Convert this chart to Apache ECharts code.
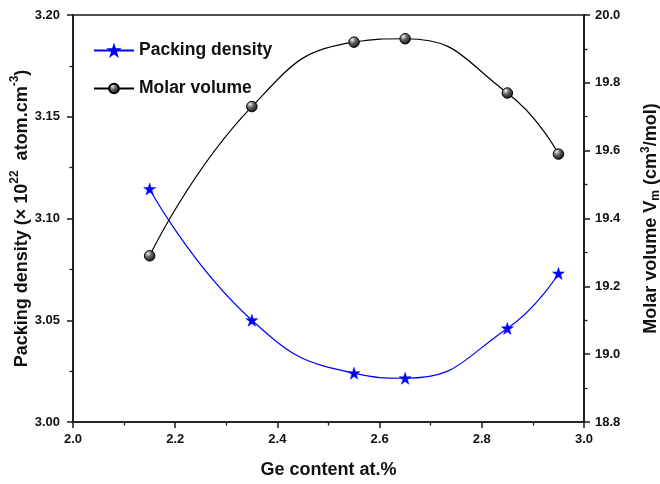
<!DOCTYPE html>
<html><head><meta charset="utf-8">
<script src="https://cdn.jsdelivr.net/npm/echarts@6/dist/echarts.min.js"></script>
<style>html,body{margin:0;padding:0;background:#fff}#c{width:660px;height:484px}</style>
</head><body><div id="c"></div>
<script>
const geContent = [2.15, 2.35, 2.55, 2.65, 2.85, 2.95];
const packingDensity = [3.1145, 3.050, 3.024, 3.0215, 3.046, 3.073];
const molarVolume = [19.29, 19.73, 19.92, 19.93, 19.77, 19.59];
const xTicks = [2.0, 2.2, 2.4, 2.6, 2.8, 3.0];
const leftTicks = [3.00, 3.05, 3.10, 3.15, 3.20];
const rightTicks = [18.8, 19.0, 19.2, 19.4, 19.6, 19.8, 20.0];

const STAR = 'path://M50,0 L61.8,35.4 L100,35.4 L69.1,57.3 L80.9,95.1 L50,73.2 L19.1,95.1 L30.9,57.3 L0,35.4 L38.2,35.4 Z';
const FONT = '"Liberation Sans", Arial, sans-serif';
const axisCol = '#1a1a1a';
const tickLabel = {color: '#111', fontFamily: FONT, fontWeight: 'bold', fontSize: 13};
const ax = {lineStyle: {color: axisCol, width: 1.6}};
const TF = 18;
const base = {fontFamily: FONT, fontWeight: 'bold', color: '#111', lineHeight: 22};

const chart = echarts.init(document.getElementById('c'));
chart.setOption({
  animation: false,
  grid: {left: 73, right: 76, top: 15, bottom: 62, containLabel: false, outerBoundsMode: 'none',
         show: true, borderColor: axisCol, borderWidth: 1.6},
  legend: {
    left: 88, top: 35, orient: 'vertical', itemGap: 17, itemWidth: 40, itemHeight: 12,
    textStyle: {fontFamily: FONT, fontWeight: 'bold', fontSize: 17.5, color: '#111', lineHeight: 21},
    data: ['Packing density', 'Molar volume']
  },
  xAxis: {
    type: 'value', min: xTicks[0], max: xTicks[xTicks.length - 1], interval: 0.2,
    axisLine: ax, axisTick: {show: true, inside: false, length: 6, lineStyle: {color: axisCol, width: 1.5}},
    minorTick: {show: true, splitNumber: 2, length: 3.5, lineStyle: {color: axisCol, width: 1.3}},
    splitLine: {show: false},
    axisLabel: Object.assign({}, tickLabel, {margin: 11, formatter: v => v.toFixed(1)}),
    name: 'Ge content at.%', nameLocation: 'middle', nameGap: 39, nameMoveOverlap: false,
    nameTextStyle: {fontFamily: FONT, fontWeight: 'bold', fontSize: TF, color: '#111'}
  },
  yAxis: [{
    type: 'value', min: leftTicks[0], max: leftTicks[leftTicks.length - 1], interval: 0.05,
    axisLine: Object.assign({show: true}, ax),
    axisTick: {show: true, length: 6, lineStyle: {color: axisCol, width: 1.5}},
    minorTick: {show: true, splitNumber: 2, length: 3.5, lineStyle: {color: axisCol, width: 1.3}},
    splitLine: {show: false},
    axisLabel: Object.assign({}, tickLabel, {margin: 13, formatter: v => v.toFixed(2)}),
    name: '{n|Packing density (× 10}{s|22}{n|  atom.cm}{s|-3}{n|)}', nameLocation: 'middle', nameGap: 42,
    nameMoveOverlap: false,
    nameTextStyle: {
      fontFamily: FONT, fontWeight: 'bold', fontSize: TF, color: '#111',
      rich: {
        n: Object.assign({}, base, {fontSize: TF, verticalAlign: 'bottom'}),
        s: Object.assign({}, base, {fontSize: 12, verticalAlign: 'top'})
      }
    }
  }, {
    type: 'value', min: rightTicks[0], max: rightTicks[rightTicks.length - 1], interval: 0.2,
    position: 'right',
    axisLine: Object.assign({show: true}, ax),
    axisTick: {show: true, length: 6, lineStyle: {color: axisCol, width: 1.5}},
    minorTick: {show: true, splitNumber: 2, length: 3.5, lineStyle: {color: axisCol, width: 1.3}},
    splitLine: {show: false},
    axisLabel: Object.assign({}, tickLabel, {margin: 11, formatter: v => v.toFixed(1)}),
    name: '{n|Molar volume V}{b|m}{n| (cm}{s|3}{n|/mol)}', nameLocation: 'middle', nameGap: 56, nameRotate: 90,
    nameMoveOverlap: false,
    nameTextStyle: {
      fontFamily: FONT, fontWeight: 'bold', fontSize: TF, color: '#111',
      rich: {
        n: Object.assign({}, base, {fontSize: TF, verticalAlign: 'middle'}),
        s: Object.assign({}, base, {fontSize: 12, verticalAlign: 'top'}),
        b: Object.assign({}, base, {fontSize: 12, verticalAlign: 'bottom'})
      }
    }
  }],
  series: [{
    name: 'Packing density', type: 'line', yAxisIndex: 0, smooth: 0.5,
    data: geContent.map((x, i) => [x, packingDensity[i]]),
    symbol: STAR, symbolSize: 12,
    lineStyle: {color: '#0000ff', width: 1.2},
    itemStyle: {color: '#0000ff', borderColor: '#0000ff', borderWidth: 0.5}
  }, {
    name: 'Molar volume', type: 'line', yAxisIndex: 1, smooth: 0.5,
    data: geContent.map((x, i) => [x, molarVolume[i]]),
    symbol: 'circle', symbolSize: 10.5,
    lineStyle: {color: '#000', width: 1.2},
    itemStyle: {
      color: new echarts.graphic.RadialGradient(0.35, 0.3, 0.75, [
        {offset: 0, color: '#f0f0f0'}, {offset: 0.4, color: '#666'}, {offset: 1, color: '#0a0a0a'}
      ]),
      borderColor: '#000', borderWidth: 1
    }
  }]
});
</script></body></html>
